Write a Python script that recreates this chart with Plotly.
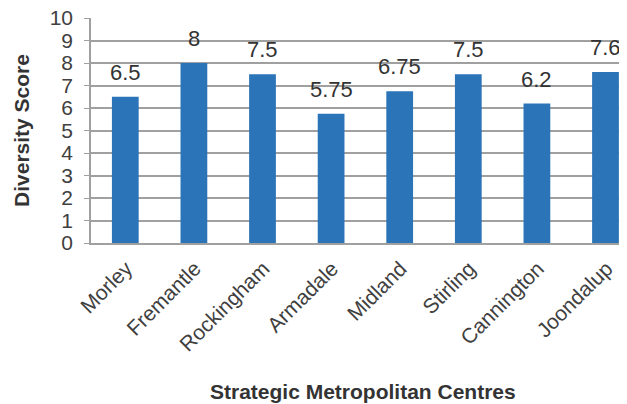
import plotly.graph_objects as go

centres = ["Morley", "Fremantle", "Rockingham", "Armadale",
           "Midland", "Stirling", "Cannington", "Joondalup"]
scores = [6.5, 8, 7.5, 5.75, 6.75, 7.5, 6.2, 7.6]
score_labels = ["6.5", "8", "7.5", "5.75", "6.75", "7.5", "6.2", "7.6"]
y_ticks = list(range(0, 11))

FONT = "Arial, Liberation Sans, sans-serif"
GRID = "#a0a0a0"

fig = go.Figure(
    go.Bar(
        x=centres,
        y=scores,
        marker=dict(color="#2b74b7", line=dict(width=0)),
        width=0.39,
    )
)

# value labels sit well above the bars, as in the original
for name, val, lab in zip(centres, scores, score_labels):
    fig.add_annotation(
        x=name, y=val, text=lab, showarrow=False,
        yanchor="bottom", yshift=10,
        font=dict(family=FONT, size=22, color="#333333"),
    )

# x title placed by hand (standoff is ignored without automargin)
fig.add_annotation(
    x=0.5, y=-0.72, xref="paper", yref="paper",
    text="<b>Strategic Metropolitan Centres</b>", showarrow=False,
    yanchor="bottom",
    font=dict(family=FONT, size=21, color="#333333"),
)

# the page adds an 8px body margin, so margins are trimmed to compensate
fig.update_layout(
    width=627,
    height=404,
    margin=dict(l=83, r=0, t=10, b=169),
    paper_bgcolor="white",
    plot_bgcolor="white",
    showlegend=False,
    font=dict(family=FONT, color="#404040"),
)
fig.update_xaxes(
    range=[-0.5, 7.43],
    automargin=False,
    tickangle=-45,
    tickfont=dict(size=21, color="#404040"),
    ticklabelshift=1,
    ticklabelstandoff=3,
    ticklabeloverflow="allow",
    showline=True,
    linecolor=GRID,
    linewidth=2,
    ticks="",
)
fig.update_yaxes(
    range=[0, 10],
    automargin=False,
    tickvals=y_ticks,
    ticklabelstandoff=7,
    ticklabeloverflow="allow",
    tickfont=dict(size=21, color="#404040"),
    showgrid=True,
    gridcolor=GRID,
    gridwidth=1.5,
    showline=True,
    linecolor=GRID,
    linewidth=1.5,
    ticks="outside",
    ticklen=5,
    tickcolor=GRID,
    zeroline=False,
    title=dict(
        text="<b>Diversity Score</b>",
        font=dict(size=21, color="#333333"),
        standoff=14,
    ),
)

fig.write_html("out.html")
